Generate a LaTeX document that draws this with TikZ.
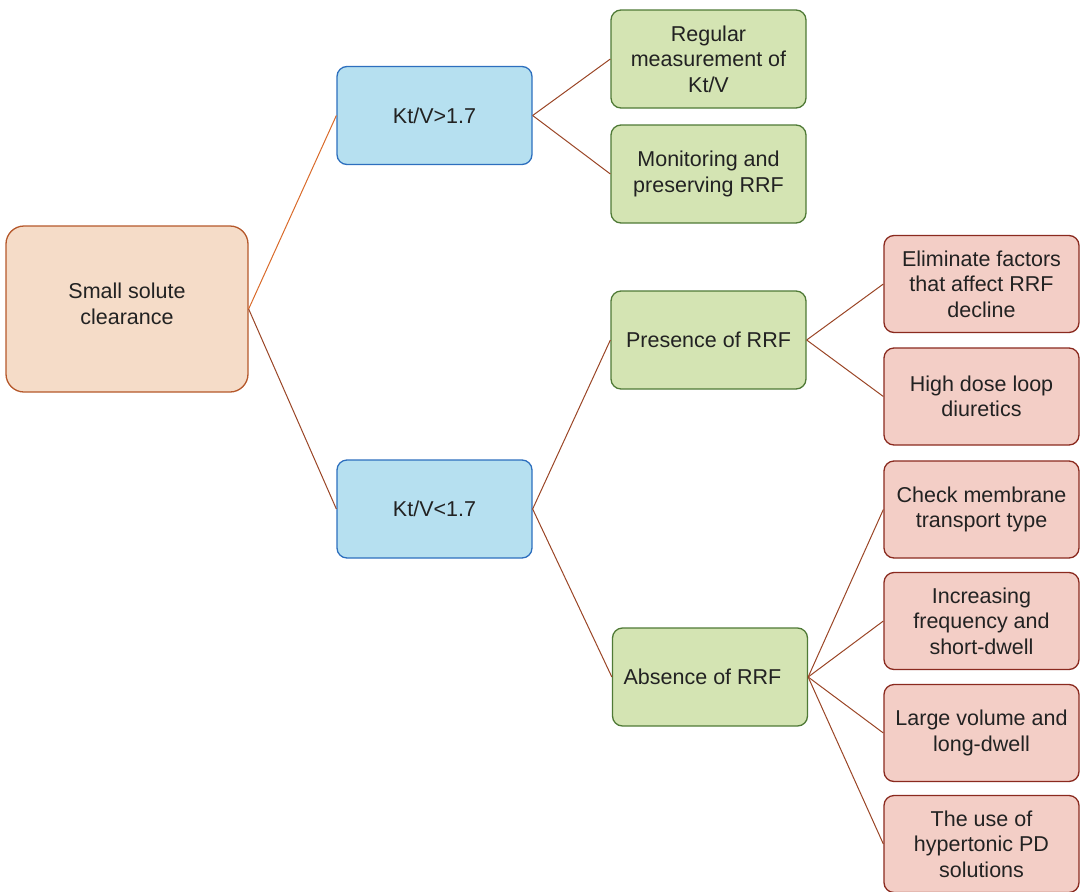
\documentclass[tikz,border=0pt]{standalone}
\usepackage{fontspec}
\setmainfont{Liberation Sans}
\definecolor{rootfill}{HTML}{F5DCC8}
\definecolor{rootline}{HTML}{B5582B}
\definecolor{bluefill}{HTML}{B6E0F0}
\definecolor{blueline}{HTML}{2D6FBE}
\definecolor{greenfill}{HTML}{D4E4B3}
\definecolor{greenline}{HTML}{4F7A36}
\definecolor{redfill}{HTML}{F3CEC6}
\definecolor{redline}{HTML}{8A2A1F}
\definecolor{linkorange}{HTML}{D96A2A}
\definecolor{linkbrown}{HTML}{9A4526}
\definecolor{textcol}{HTML}{222222}
\begin{document}
\begin{tikzpicture}[x=1pt,y=-1pt,
  box/.style={rounded corners=10pt, line width=1.3pt, align=center,
    text=textcol, font=\fontsize{21.5}{25.5}\selectfont, inner sep=0pt},
  rootbox/.style={box, fill=rootfill, draw=rootline, minimum width=242pt, minimum height=166pt, rounded corners=18pt},
  bluebox/.style={box, fill=bluefill, draw=blueline, minimum width=195pt, minimum height=98pt},
  greenbox/.style={box, fill=greenfill, draw=greenline, minimum width=195pt, minimum height=98pt},
  redbox/.style={box, fill=redfill, draw=redline, minimum width=195pt, minimum height=97pt},
  link/.style={draw=linkbrown, line width=1pt},
  linkhi/.style={draw=linkorange, line width=1pt}]
\useasboundingbox (0,0) rectangle (1080,892);
% tree nodes
\node[rootbox]  (root) at (127,309) {};
\node[box] (rootlabel) at (127,304) {Small solute\\clearance};
\node[bluebox]  (hi)   at (434.5,115.5) {Kt/V>1.7};
\node[bluebox]  (lo)   at (434.5,509) {Kt/V<1.7};
\node[greenbox] (reg)  at (708.5,59) {Regular\\measurement of\\Kt/V};
\node[greenbox] (mon)  at (708.5,174) {Monitoring and\\preserving RRF};
\node[greenbox] (pres) at (708.5,340) {Presence of RRF};
\node[greenbox] (abs)  at (710,677) {};
\node[box] (abslabel) at (702.5,677) {Absence of RRF};
\node[redbox]   (elim) at (981.5,284) {Eliminate factors\\that affect RRF\\decline};
\node[redbox]   (dose) at (981.5,396.5) {High dose loop\\diuretics};
\node[redbox]   (memb) at (981.5,509.5) {Check membrane\\transport type};
\node[redbox]   (freq) at (981.5,621) {Increasing\\frequency and\\short-dwell};
\node[redbox]   (vol)  at (981.5,733) {Large volume and\\long-dwell};
\node[redbox]   (hyp)  at (981.5,844) {The use of\\hypertonic PD\\solutions};
% connectors
\draw[linkhi] (root.east) -- (hi.west);
\draw[link] (root.east) -- (lo.west);
\draw[link] (hi.east) -- (reg.west);
\draw[link] (hi.east) -- (mon.west);
\draw[link] (lo.east) -- (pres.west);
\draw[link] (lo.east) -- (abs.west);
\draw[link] (pres.east) -- (elim.west);
\draw[link] (pres.east) -- (dose.west);
\draw[link] (abs.east) -- (memb.west);
\draw[link] (abs.east) -- (freq.west);
\draw[link] (abs.east) -- (vol.west);
\draw[link] (abs.east) -- (hyp.west);
\end{tikzpicture}
\end{document}
